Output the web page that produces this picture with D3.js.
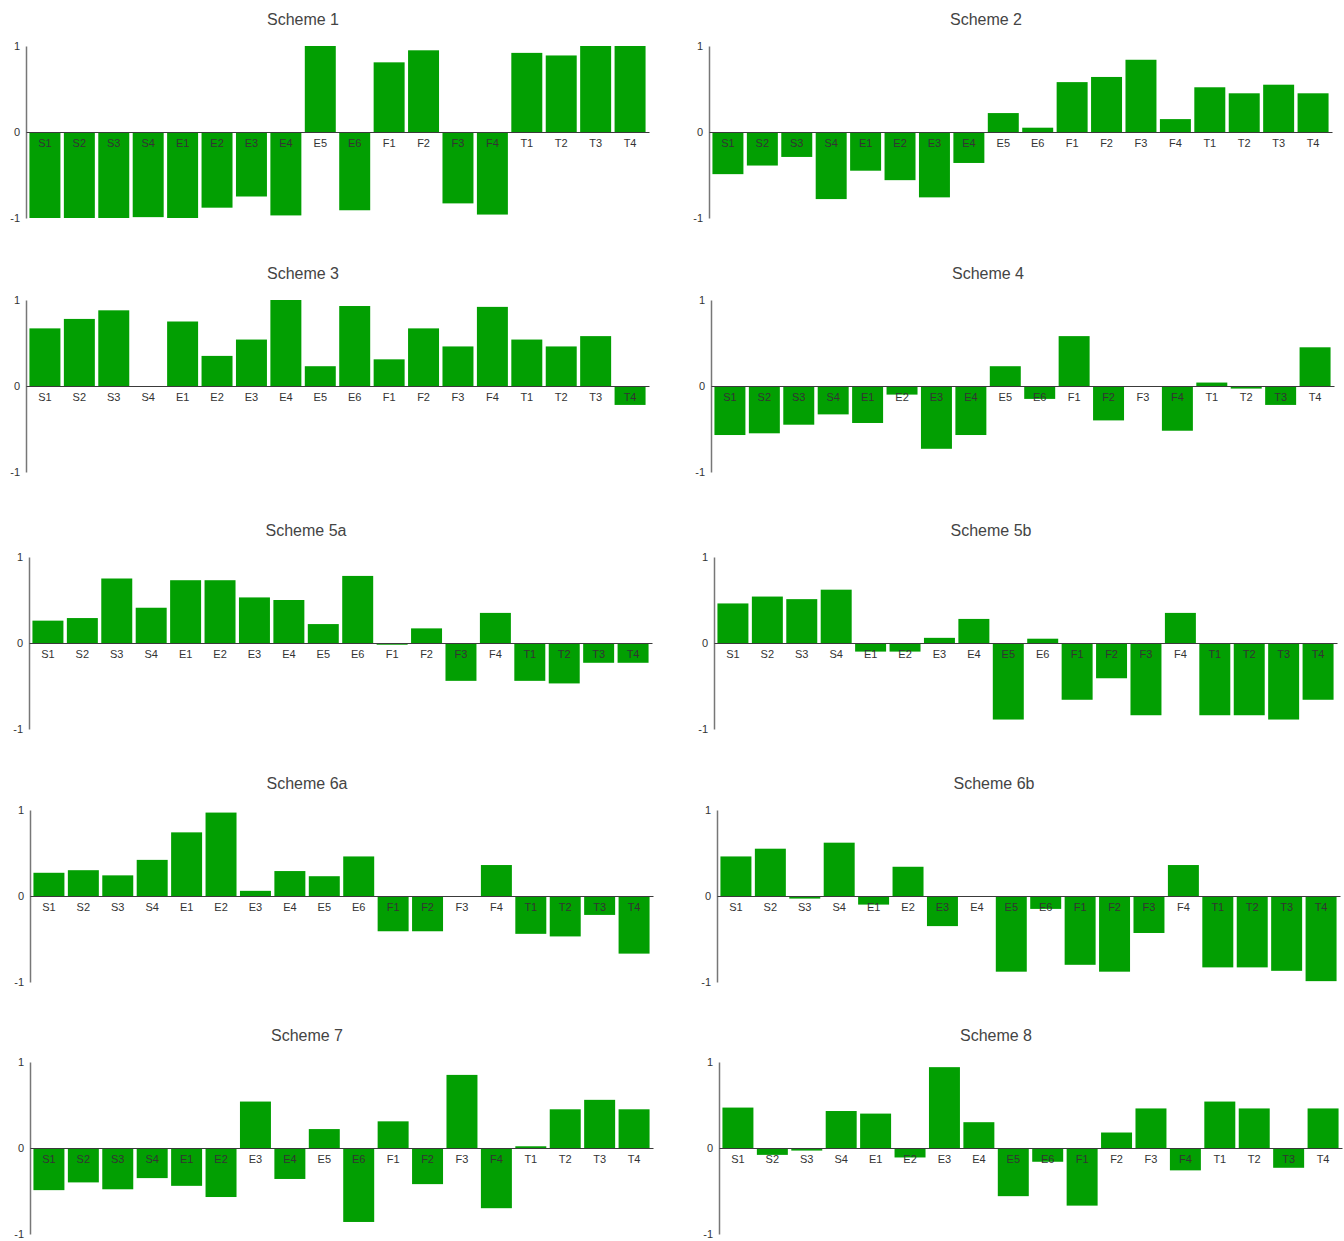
<!DOCTYPE html>
<html>
<head>
<meta charset="utf-8">
<script src="https://cdn.jsdelivr.net/npm/d3@7"></script>
<style>
  body { margin: 0; background: #fff; }
  svg { display: block; font-family: "Liberation Sans", Arial, sans-serif; }
  .title { font-size: 16px; fill: #444; }
  .xlab text, .ylab text { font-size: 11px; fill: #333; }
</style>
</head>
<body>
<svg id="chart" width="1344" height="1241"></svg>
<script>
var categories = ['S1', 'S2', 'S3', 'S4', 'E1', 'E2', 'E3', 'E4', 'E5', 'E6',
    'F1', 'F2', 'F3', 'F4', 'T1', 'T2', 'T3', 'T4'];
var yTicks = [-1, 0, 1];
var titles = ['Scheme 1', 'Scheme 2', 'Scheme 3', 'Scheme 4', 'Scheme 5a',
    'Scheme 5b', 'Scheme 6a', 'Scheme 6b', 'Scheme 7', 'Scheme 8'];

var scheme1 = [-1.0, -1.0, -1.0, -0.99, -1.0, -0.88, -0.75, -0.97, 1.0, -0.91,
    0.81, 0.95, -0.83, -0.96, 0.92, 0.89, 1.0, 1.0];
var scheme2 = [-0.49, -0.39, -0.29, -0.78, -0.45, -0.56, -0.76, -0.36, 0.22, 0.05,
    0.58, 0.64, 0.84, 0.15, 0.52, 0.45, 0.55, 0.45];
var scheme3 = [0.67, 0.78, 0.88, 0.0, 0.75, 0.35, 0.54, 1.0, 0.23, 0.93,
    0.31, 0.67, 0.46, 0.92, 0.54, 0.46, 0.58, -0.22];
var scheme4 = [-0.57, -0.55, -0.45, -0.33, -0.43, -0.10, -0.73, -0.57, 0.23, -0.15,
    0.58, -0.40, -0.01, -0.52, 0.04, -0.03, -0.22, 0.45];
var scheme5a = [0.26, 0.29, 0.75, 0.41, 0.73, 0.73, 0.53, 0.50, 0.22, 0.78,
    -0.02, 0.17, -0.44, 0.35, -0.44, -0.47, -0.23, -0.23];
var scheme5b = [0.46, 0.54, 0.51, 0.62, -0.10, -0.10, 0.06, 0.28, -0.89, 0.05,
    -0.66, -0.41, -0.84, 0.35, -0.84, -0.84, -0.89, -0.66];
var scheme6a = [0.27, 0.30, 0.24, 0.42, 0.74, 0.97, 0.06, 0.29, 0.23, 0.46,
    -0.41, -0.41, 0.0, 0.36, -0.44, -0.47, -0.22, -0.67];
var scheme6b = [0.46, 0.55, -0.03, 0.62, -0.10, 0.34, -0.35, 0.0, -0.88, -0.15,
    -0.80, -0.88, -0.43, 0.36, -0.83, -0.83, -0.87, -0.99];
var scheme7 = [-0.49, -0.40, -0.48, -0.35, -0.44, -0.57, 0.54, -0.36, 0.22, -0.86,
    0.31, -0.42, 0.85, -0.70, 0.02, 0.45, 0.56, 0.45];
var scheme8 = [0.47, -0.08, -0.03, 0.43, 0.40, -0.11, 0.94, 0.30, -0.56, -0.16,
    -0.67, 0.18, 0.46, -0.26, 0.54, 0.46, -0.23, 0.46];

var series = [scheme1, scheme2, scheme3, scheme4, scheme5a,
    scheme5b, scheme6a, scheme6b, scheme7, scheme8];

// panel placement (top = y of the "1" tick, left = y axis x)
var rowTops = [46, 300, 557, 810, 1062];
var colLefts = [[26, 709], [26, 711], [29, 714], [30, 717], [30, 719]];
var plotW = 623, plotH = 172;
var barColor = '#029f02';

var svg = d3.select('#chart');

series.forEach(function (values, i) {
    var row = Math.floor(i / 2), col = i % 2;
    var x0 = colLefts[row][col], y0 = rowTops[row];
    var data = categories.map(function (c, k) { return { cat: c, v: values[k] }; });

    var x = d3.scaleBand().domain(categories).range([0, plotW]).padding(0.1);
    var y = d3.scaleLinear().domain([-1, 1]).range([plotH, 0]);

    var g = svg.append('g').attr('transform', 'translate(' + [x0, y0] + ')');

    g.append('text')
        .attr('class', 'title')
        .attr('x', 277)
        .attr('y', -21)
        .attr('text-anchor', 'middle')
        .text(titles[i]);

    g.selectAll('.bar')
        .data(data)
        .enter().append('rect')
        .attr('class', 'bar')
        .attr('x', function (d) { return x(d.cat); })
        .attr('width', x.bandwidth())
        .attr('y', function (d) { return y(Math.max(0, d.v)); })
        .attr('height', function (d) { return Math.abs(y(d.v) - y(0)); })
        .attr('fill', barColor);

    // plain hyphen for the minus sign, as in the original
    var yAxis = g.append('g')
        .attr('class', 'ylab')
        .call(d3.axisLeft(y).tickValues(yTicks).tickSize(0).tickPadding(6)
            .tickFormat(function (d) { return String(d); }));
    yAxis.select('.domain').attr('stroke', '#777').attr('stroke-width', 1.5);

    var xAxis = g.append('g')
        .attr('class', 'xlab')
        .attr('transform', 'translate(0,' + y(0) + ')')
        .call(d3.axisBottom(x).tickSize(0).tickPadding(7));
    xAxis.select('.domain').attr('stroke', '#3a3a3a').attr('stroke-width', 1.2);
});
</script>
</body>
</html>
